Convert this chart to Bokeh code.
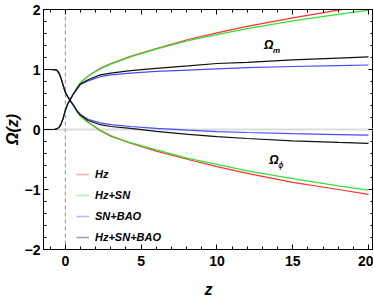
from bokeh.plotting import figure
from bokeh.models import (Range1d, SingleIntervalTicker, LinearAxis, Span, Label,
                          Legend, LegendItem, CustomJSTickFormatter)
from bokeh.embed import file_html
from bokeh.resources import INLINE

# ---------------- data ----------------
z = [-1.44, -1.0, -0.7, -0.55, -0.4, -0.29, -0.15, 0.0, 0.15, 0.3, 0.5, 0.75, 1.0,
     1.5, 2.3, 3.0, 4.3, 6.0, 8.1, 10.0, 12.0, 15.0, 18.0, 20.0]

om_hz = [0, 0, 0.003, 0.01, 0.04, 0.09, 0.18, 0.32, 0.42, 0.49, 0.58, 0.69, 0.78,
         0.89, 1.02, 1.10, 1.22, 1.35, 1.50, 1.61, 1.72, 1.86, 1.99, 2.06]
om_hzsn = [0, 0, 0.003, 0.01, 0.04, 0.09, 0.18, 0.32, 0.42, 0.49, 0.58, 0.69, 0.78,
           0.89, 1.01, 1.09, 1.21, 1.34, 1.48, 1.58, 1.68, 1.81, 1.92, 1.99]
om_snbao = [0, 0, 0.003, 0.01, 0.04, 0.09, 0.18, 0.32, 0.42, 0.49, 0.58, 0.67, 0.75,
            0.81, 0.88, 0.91, 0.94, 0.97, 0.99, 1.01, 1.03, 1.05, 1.065, 1.075]
om_all = [0, 0, 0.003, 0.01, 0.04, 0.09, 0.18, 0.32, 0.42, 0.49, 0.58, 0.67, 0.76,
          0.83, 0.91, 0.94, 0.98, 1.02, 1.06, 1.10, 1.12, 1.16, 1.19, 1.21]

op_hz = [1, 1, 0.997, 0.985, 0.93, 0.86, 0.74, 0.62, 0.55, 0.49, 0.41, 0.30, 0.22,
         0.12, -0.02, -0.11, -0.23, -0.36, -0.50, -0.62, -0.73, -0.88, -1.0, -1.08]
op_hzsn = [1, 1, 0.997, 0.985, 0.93, 0.86, 0.74, 0.62, 0.55, 0.49, 0.41, 0.30, 0.22,
           0.12, -0.01, -0.10, -0.22, -0.34, -0.48, -0.58, -0.69, -0.82, -0.94, -1.01]
op_snbao = [1, 1, 0.997, 0.985, 0.93, 0.86, 0.74, 0.62, 0.55, 0.49, 0.42, 0.32, 0.25,
            0.17, 0.11, 0.08, 0.05, 0.02, -0.01, -0.035, -0.05, -0.07, -0.085, -0.095]
op_all = [1, 1, 0.997, 0.985, 0.93, 0.86, 0.74, 0.62, 0.55, 0.49, 0.42, 0.32, 0.24,
          0.15, 0.08, 0.05, 0.02, -0.03, -0.08, -0.12, -0.15, -0.19, -0.215, -0.23]

series_names = ["Hz", "Hz+SN", "SN+BAO", "Hz+SN+BAO"]
series_colors = ["#ff3030", "#33e033", "#4a4aff", "#111111"]
om_series = [om_hz, om_hzsn, om_snbao, om_all]
op_series = [op_hz, op_hzsn, op_snbao, op_all]

y_tick_labels = {-2: "\u22122", -1: "\u22121", 0: "0", 1: "1", 2: "2"}
x_label = "z"
y_label = "\u03a9(z)"

FONT = "Liberation Sans"

# ---------------- figure ----------------
p = figure(width=373, height=300, x_range=Range1d(-1.44, 20.33), y_range=Range1d(-2, 2),
           output_backend="svg", toolbar_location=None,
           min_border_left=0, min_border_right=0, min_border_top=9, min_border_bottom=0)
p.xgrid.visible = False
p.ygrid.visible = False
p.outline_line_color = "black"
p.outline_line_width = 1
p.background_fill_color = "white"
p.border_fill_color = "white"

xt = SingleIntervalTicker(interval=5, num_minor_ticks=5)
yt = SingleIntervalTicker(interval=1, num_minor_ticks=5)


def style_axis(ax, show_labels=True):
    ax.major_tick_in = 5
    ax.major_tick_out = 0
    ax.minor_tick_in = 3
    ax.minor_tick_out = 0
    ax.axis_line_color = "black"
    ax.major_tick_line_color = "black"
    ax.minor_tick_line_color = "black"
    ax.major_label_text_font = FONT
    ax.major_label_text_font_style = "bold"
    ax.major_label_text_color = "black"
    ax.major_label_text_font_size = "14px"
    if not show_labels:
        ax.formatter = CustomJSTickFormatter(code="return ''")
        ax.major_label_standoff = 0


p.xaxis.ticker = xt
p.yaxis.ticker = yt
style_axis(p.xaxis[0])
style_axis(p.yaxis[0])
p.xaxis.major_label_standoff = 6
p.yaxis.major_label_standoff = 3
p.yaxis.major_label_overrides = y_tick_labels
p.xaxis.axis_label = x_label
p.yaxis.axis_label = y_label
for ax in (p.xaxis[0], p.yaxis[0]):
    ax.axis_label_text_font = FONT
    ax.axis_label_text_font_style = "bold italic"
    ax.axis_label_text_font_size = "16px"
    ax.axis_label_text_color = "black"
p.xaxis.axis_label_standoff = 12
p.yaxis.axis_label_standoff = 1

top_ax = LinearAxis(ticker=xt)
style_axis(top_ax, show_labels=False)
p.add_layout(top_ax, "above")
right_ax = LinearAxis(ticker=yt)
style_axis(right_ax, show_labels=False)
p.add_layout(right_ax, "right")

# reference lines
p.add_layout(Span(location=0, dimension="width", line_color="#dcdcdc", line_width=2,
                  level="underlay"))
p.add_layout(Span(location=0, dimension="height", line_color="#909090", line_width=1,
                  line_dash="4 3", level="underlay"))

# curves
for name, col, om, op in zip(series_names, series_colors, om_series, op_series):
    p.line(z, om, line_color=col, line_width=1.2)
    p.line(z, op, line_color=col, line_width=1.2)

# legend with faded swatches (proxy renderers holding no visible data)
nan = float("nan")
items = []
for name, col in zip(series_names, series_colors):
    r = p.line([nan], [nan], line_color=col, line_alpha=0.4, line_width=1.6)
    items.append(LegendItem(label=name, renderers=[r]))
legend = Legend(items=items, location=(33, 6))
legend.padding = 0
legend.margin = 0
legend.spacing = 9
legend.glyph_width = 13
legend.glyph_height = 12
legend.label_height = 12
legend.label_standoff = 6
legend.label_text_font = FONT
legend.label_text_font_style = "bold italic"
legend.label_text_font_size = "11px"
legend.label_text_color = "black"
legend.background_fill_alpha = 0
legend.border_line_alpha = 0
p.add_layout(legend)

# curve annotations
p.add_layout(Label(x=13.1, y=1.30, text="\u03a9", text_font=FONT, text_font_style="bold italic",
                   text_font_size="12px", text_color="black"))
p.add_layout(Label(x=13.1, y=1.30, x_offset=9, y_offset=-3, text="m", text_font=FONT,
                   text_font_style="bold italic", text_font_size="8px", text_color="black"))
p.add_layout(Label(x=13.45, y=-0.62, text="\u03a9", text_font=FONT, text_font_style="bold italic",
                   text_font_size="12px", text_color="black"))
p.add_layout(Label(x=13.45, y=-0.62, x_offset=9, y_offset=-3, text="\u03d5", text_font="DejaVu Sans",
                   text_font_style="italic", text_font_size="8px", text_color="black"))

open("out.html", "w").write(file_html(p, INLINE))
